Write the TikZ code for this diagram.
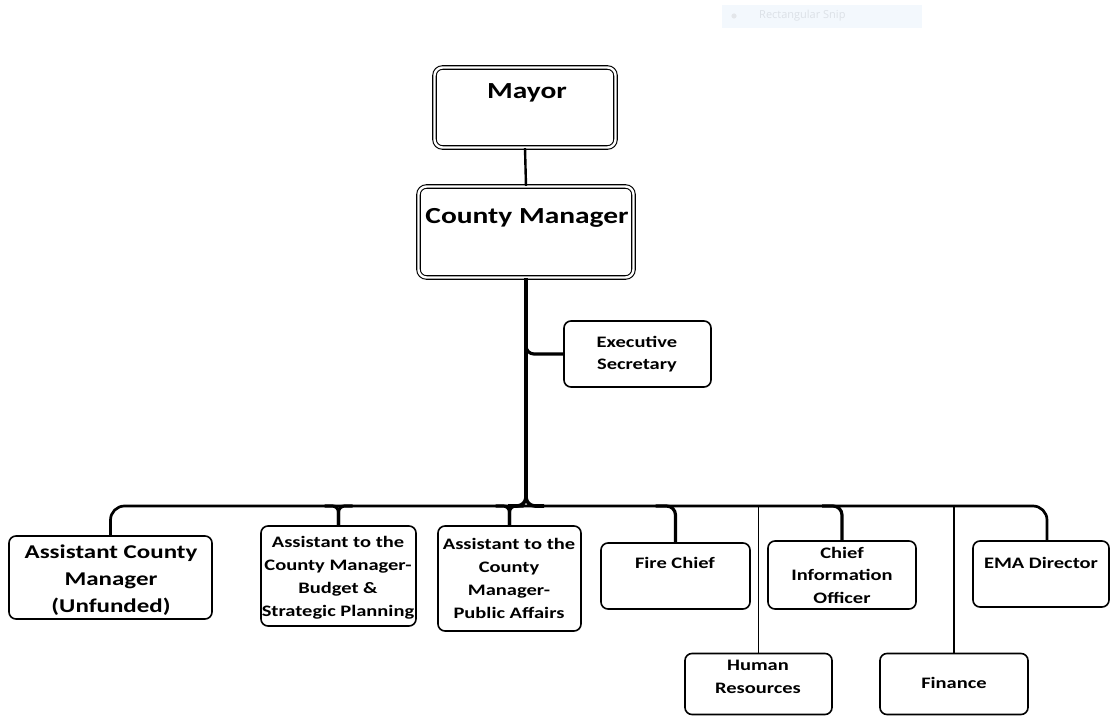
\documentclass[tikz,border=0pt]{standalone}
\usepackage{fontspec}
\setmainfont{Carlito}[FakeStretch=1.28]
\newfontfamily\uifont{Open Sans}
\definecolor{snipfill}{HTML}{F3F8FD}
\definecolor{sniptext}{HTML}{DCE1E7}
\definecolor{snipdot}{HTML}{E3E6EA}
\begin{document}
\begin{tikzpicture}[x=1pt,y=-1pt,
  box/.style={draw=black, line width=1.6pt, rounded corners=7pt, fill=white, inner sep=0pt},
  dbox/.style={draw=black, line width=1.1pt, double=white, double distance=2.4pt, rounded corners=8pt, fill=white, inner sep=0pt},
  lbl/.style={font=\bfseries, align=center, inner sep=0pt},
  big/.style={lbl, font=\bfseries\fontsize{23}{28}\selectfont},
  mid/.style={lbl, font=\bfseries\fontsize{19.5}{27}\selectfont},
  small/.style={lbl, font=\bfseries\fontsize{16}{23}\selectfont},
  trunk/.style={line width=3.6pt},
  busline/.style={line width=2.7pt},
  drop/.style={line width=3.2pt},
  thinline/.style={line width=1.5pt},
  link/.style={line width=2.4pt}]
\useasboundingbox (0,0) rectangle (1112,717);

% screen-capture toolbar
\node[fill=snipfill, minimum width=200pt, minimum height=23pt, inner sep=0pt] (snip) at (822,16.5) {};
\fill[snipdot] (734,16) circle (2.6pt);
\node[anchor=west, inner sep=0pt, text=sniptext, font=\uifont\fontsize{11}{13}\selectfont] (sniplbl) at (759,16) {Rectangular Snip};

% boxes
\node[dbox, minimum width=181pt, minimum height=80pt] (mayor) at (525,107.5) {};
\node[dbox, minimum width=215pt, minimum height=91pt] (cm) at (526,232) {};
\node[box, minimum width=147pt, minimum height=66pt] (exec) at (637.5,354) {};
\node[box, minimum width=203pt, minimum height=83pt] (acm) at (110.5,577.5) {};
\node[box, minimum width=155pt, minimum height=100pt] (budget) at (338.5,576) {};
\node[box, minimum width=143pt, minimum height=105pt] (public) at (509.5,578.5) {};
\node[box, minimum width=149pt, minimum height=66pt] (fire) at (675.5,576) {};
\node[box, minimum width=148pt, minimum height=68pt] (cio) at (842,575) {};
\node[box, minimum width=136pt, minimum height=66pt] (ema) at (1041,574) {};
\node[box, minimum width=147pt, minimum height=61pt] (hr) at (758.5,684) {};
\node[box, minimum width=148pt, minimum height=61pt] (fin) at (954,684) {};

% labels
\node[big] (mayor-t) at (527,93) {Mayor};
\node[big] (cm-t) at (527,218) {County Manager};
\node[small, font=\bfseries\fontsize{16}{22}\selectfont] (exec-t) at (637,354) {Executive\\Secretary};
\node[mid] (acm-t) at (111,580) {Assistant County\\Manager\\(Unfunded)};
\node[small] (budget-t) at (338,578) {Assistant to the\\County Manager-\\Budget \&\\Strategic Planning};
\node[small] (public-t) at (509,578) {Assistant to the\\County\\Manager-\\Public Affairs};
\node[small] (fire-t) at (675,563) {Fire Chief};
\node[small, font=\bfseries\fontsize{16}{22.5}\selectfont] (cio-t) at (842,575) {Chief\\Information\\Officer};
\node[small] (ema-t) at (1041,563) {EMA Director};
\node[small, font=\bfseries\fontsize{16}{23}\selectfont] (hr-t) at (758,677) {Human\\Resources};
\node[small] (fin-t) at (954,683) {Finance};

% connectors
\coordinate (bus) at (527,506);
\draw[link] (mayor.south) -- (cm.north);
\coordinate (jm) at (cm.south |- bus);
\draw[trunk, rounded corners=9pt] (cm.south) |- ([xshift=-18pt]jm);
\draw[trunk, rounded corners=9pt] (cm.south) |- ([xshift=18pt]jm);
\coordinate (je) at (cm.south |- exec.west);
\draw[drop, rounded corners=8pt] ([yshift=16pt]je) |- (exec.west);

\coordinate (emadrop) at ([xshift=6pt]ema.north);
\draw[busline, rounded corners=14pt] (acm.north) |- (bus) -| (emadrop);

\coordinate (jb) at (budget.north |- bus);
\draw[drop, rounded corners=6pt] ([xshift=-14pt]jb) -| (budget.north);
\draw[drop, rounded corners=6pt] ([xshift=14pt]jb) -| (budget.north);
\coordinate (jp) at (public.north |- bus);
\draw[drop, rounded corners=6pt] ([xshift=-14pt]jp) -| (public.north);
\draw[drop, rounded corners=6pt] ([xshift=14pt]jp) -| (public.north);
\coordinate (jf) at (fire.north |- bus);
\draw[drop, rounded corners=9pt] ([xshift=-20pt]jf) -| (fire.north);
\coordinate (jc) at (cio.north |- bus);
\draw[drop, rounded corners=9pt] ([xshift=-20pt]jc) -| (cio.north);

\draw[thinline] (hr.north |- bus) -- (hr.north);
\draw[thinline] (fin.north |- bus) -- (fin.north);
\end{tikzpicture}
\end{document}
